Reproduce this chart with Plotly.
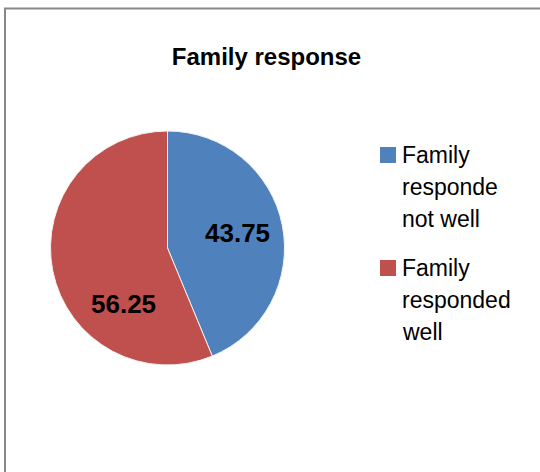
import plotly.graph_objects as go

labels = ["Family<br>responde<br>not well", "Family<br>responded<br>well"]
values = [43.75, 56.25]
colors = ["#4F81BD", "#C0504D"]
title_text = "Family response"

W, H = 540, 472
FONT = "Liberation Sans"

fig = go.Figure()
fig.add_trace(go.Pie(
    labels=labels,
    values=values,
    sort=False,
    direction="clockwise",
    rotation=0,
    marker=dict(colors=colors, line=dict(color="#f2f2f2", width=1)),
    textinfo="none",
    hoverinfo="label+value",
    showlegend=False,
    domain=dict(x=[50.5 / W, 284.5 / W], y=[1 - 365 / H, 1 - 131 / H]),
))

# value labels (positions like the original's inner labels)
label_pos = [(237, 233), (123.5, 303.5)]
for v, (px, py) in zip(values, label_pos):
    fig.add_annotation(
        x=px / W, y=1 - py / H, xref="paper", yref="paper",
        text=f"<b>{v:.2f}</b>", showarrow=False,
        font=dict(family=FONT, size=26, color="black"),
        xanchor="center", yanchor="middle",
    )

# legend drawn by hand: swatch + one annotation per text line
shapes = []
entry_top = [147, 260]
line_gap = 32
for lab, col, top in zip(labels, colors, entry_top):
    shapes.append(dict(
        type="rect", xref="paper", yref="paper",
        x0=380 / W, x1=396 / W, y0=1 - (top + 16) / H, y1=1 - top / H,
        fillcolor=col, line=dict(width=0),
    ))
    for i, line in enumerate(lab.split("<br>")):
        mid = top + 8 + i * line_gap
        fig.add_annotation(
            x=400 / W, y=1 - mid / H, xref="paper", yref="paper",
            text=line, showarrow=False,
            font=dict(family=FONT, size=23, color="black"),
            xanchor="left", yanchor="middle",
        )

shapes.append(dict(
    type="rect", xref="paper", yref="paper",
    x0=5 / W, x1=1.05, y0=-0.05, y1=1 - 8.5 / H,
    line=dict(color="#888888", width=2), fillcolor="rgba(0,0,0,0)",
    layer="above",
))

fig.update_layout(
    width=W, height=H,
    margin=dict(l=0, r=0, t=0, b=0),
    paper_bgcolor="white",
    plot_bgcolor="white",
    font=dict(family=FONT, color="black"),
    title=dict(
        text=f"<b>{title_text}</b>",
        x=266.5 / W, y=1 - 57 / H, xanchor="center", yanchor="middle",
        font=dict(family=FONT, size=24, color="black"),
    ),
    showlegend=False,
    shapes=shapes,
)

fig.write_html("out.html")
